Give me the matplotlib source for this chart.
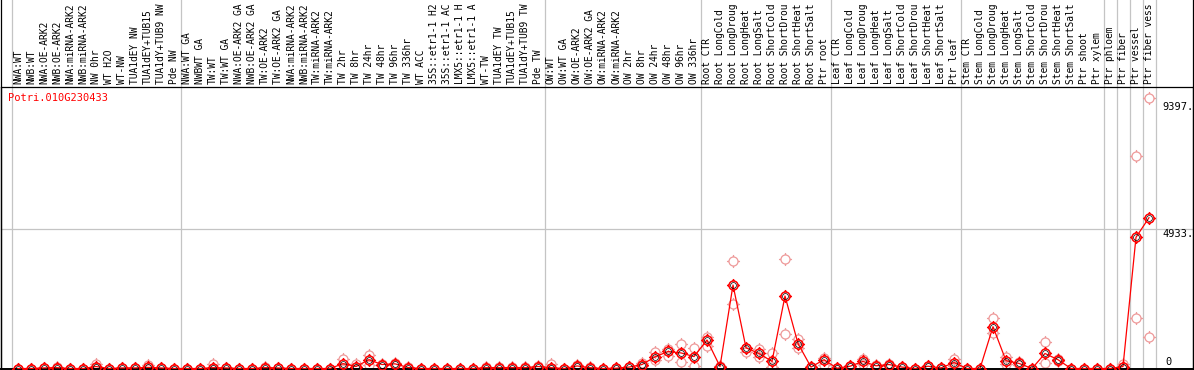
import matplotlib
matplotlib.use("Agg")
import matplotlib.pyplot as plt
import matplotlib.transforms as mtransforms
from matplotlib.path import Path

# sample names (as shown, cut at the top of the image)
samples = [
    "NWA:WT", "NWB:WT", "NWA:OE-ARK2", "NWB:OE-ARK2", "NWA:miRNA-ARK2", "NWB:miRNA-ARK2",
    "NW 0hr", "WT H2O", "WT-NW", "TUA1dEY NW", "TUA1dEY+TUB15", "TUA1dY+TUB9 NW", "Pde NW",
    "NWA:WT GA", "NWBWT GA", "TW:WT", "TW:WT GA", "NWA:OE-ARK2 GA", "NWB:OE-ARK2 GA",
    "TW:OE-ARK2", "TW:OE-ARK2 GA", "NWA:miRNA-ARK2", "NWB:miRNA-ARK2", "TW:miRNA-ARK2",
    "TW:miRNA-ARK2", "TW 2hr", "TW 8hr", "TW 24hr", "TW 48hr", "TW 96hr", "TW 336hr",
    "WT ACC", "35S::etr1-1 H2", "35S::etr1-1 AC", "LMX5::etr1-1 H", "LMX5::etr1-1 A",
    "WT-TW", "TUA1dEY TW", "TUA1dEY+TUB15", "TUA1dY+TUB9 TW", "Pde TW",
    "OW:WT", "OW:WT GA", "OW:OE-ARK2", "OW:OE-ARK2 GA", "OW:miRNA-ARK2", "OW:miRNA-ARK2",
    "OW 2hr", "OW 8hr", "OW 24hr", "OW 48hr", "OW 96hr", "OW 336hr",
    "Root CTR", "Root LongCold", "Root LongDroug", "Root LongHeat", "Root LongSalt",
    "Root ShortCold", "Root ShortDrou", "Root ShortHeat", "Root ShortSalt", "Ptr root",
    "Leaf CTR", "Leaf LongCold", "Leaf LongDroug", "Leaf LongHeat", "Leaf LongSalt",
    "Leaf ShortCold", "Leaf ShortDrou", "Leaf ShortHeat", "Leaf ShortSalt", "Ptr leaf",
    "Stem CTR", "Stem LongCold", "Stem LongDroug", "Stem LongHeat", "Stem LongSalt",
    "Stem ShortCold", "Stem ShortDrou", "Stem ShortHeat", "Stem ShortSalt", "Ptr shoot",
    "Ptr xylem", "Ptr phloem", "Ptr fiber", "Ptr vessel", "Ptr fiber vess",
]

# mean expression per sample
mean_vals = [
    0, 0, 20, 30, 0, 0, 70, 0, 20, 20, 40, 20, 0,
    0, 0, 30, 20, 0, 0, 30, 20, 0, 0, 0, 0, 170, 70, 310, 140, 165, 35,
    0, 0, 0, 0, 0, 30, 30, 30, 30, 70,
    30, 0, 90, 30, 0, 10, 50, 140, 410, 600, 550, 420,
    1006, 70, 2946, 730, 530, 250, 2558, 880, 50, 310,
    10, 80, 250, 95, 140, 50, 0, 80, 20, 210,
    0, 0, 1475, 275, 180, 0, 530, 310, 0, 0, 0,
    0, 70, 4630, 5321,
]

# replicate values (highest / lowest)
rep_hi = [
    0, 0, 30, 40, 0, 0, 170, 0, 30, 30, 140, 30, 0,
    0, 0, 150, 30, 0, 0, 60, 30, 0, 0, 0, 0, 330, 150, 490, 160, 210, 50,
    0, 0, 0, 0, 0, 40, 40, 40, 40, 90,
    165, 0, 120, 40, 0, 20, 60, 180, 590, 700, 870, 740,
    1122, 80, 3793, 740, 680, 550, 3864, 1045, 60, 360,
    20, 100, 340, 110, 170, 60, 0, 90, 30, 325,
    0, 0, 1771, 400, 220, 0, 940, 330, 0, 0, 0,
    0, 165, 7509, 9534,
]
rep_lo = [
    0, 0, 10, 20, 0, 0, 10, 0, 10, 10, 0, 10, 0,
    0, 0, 0, 10, 0, 0, 10, 10, 0, 0, 0, 0, 0, 0, 130, 120, 120, 20,
    0, 0, 0, 0, 0, 20, 20, 20, 20, 50,
    0, 0, 60, 20, 0, 0, 40, 100, 300, 445, 235, 95,
    794, 60, 2276, 575, 420, 50, 1217, 715, 40, 135,
    0, 50, 150, 80, 100, 40, 0, 70, 10, 80,
    0, 0, 1242, 150, 130, 0, 190, 250, 0, 0, 0,
    0, 0, 1771, 1101,
]

# group separators (between sample positions)
group_edges = [-0.5, 12.5, 40.5, 52.5, 62.5, 72.5, 83.5, 84.5, 85.5, 86.5, 87.5]
y_marks = [9397, 4933]
gene = "Potri.010G230433"

W, H = 1194, 370
fig = plt.figure(figsize=(W / 100, H / 100), dpi=100)
ax = fig.add_axes([1 / W, 1.5 / H, 1192 / W, 281.5 / H])

x = list(range(len(samples)))

# circle with four small ticks
ticks = Path([(0, 1), (0, 1.45), (0, -1), (0, -1.45), (1, 0), (1.45, 0), (-1, 0), (-1.45, 0)],
             [Path.MOVETO, Path.LINETO] * 4)
tick_circle = Path.make_compound_path(Path.unit_circle(), ticks)

ax.plot(x, rep_hi, linestyle="none", marker=tick_circle, ms=9.4, mfc="none",
        mec="#ee9a9a", mew=0.9, zorder=2)
ax.plot(x, rep_lo, linestyle="none", marker=tick_circle, ms=9.4, mfc="none",
        mec="#ee9a9a", mew=0.9, zorder=2)
ax.plot(x, mean_vals, color="red", lw=0.9, marker=tick_circle, ms=9.4, mfc="none",
        mec="red", mew=1.1, zorder=4)
ax.plot(x, mean_vals, linestyle="none", marker="o", ms=4.2, mfc="none",
        mec="black", mew=0.5, zorder=5)

for b in group_edges:
    ax.axvline(b, ymin=-0.01, ymax=1.31, color="#c4c4c4", lw=0.9, clip_on=False, zorder=0.5)
ax.axhline(y_marks[1], color="#c4c4c4", lw=0.9, zorder=0.5)

ax.set_xlim((1 - 18) / 13, (1193 - 18) / 13)
ax.set_ylim(0, 9933)
ax.set_xticks([])
ax.set_yticks([])
for s in ax.spines.values():
    s.set_color("black")
    s.set_linewidth(0.9)
ax.spines["bottom"].set_linewidth(1.4)

mono = "DejaVu Sans Mono"
ytr = ax.get_yaxis_transform()
for v in y_marks:
    ax.text(0.9745, v, f"{v}.", transform=ytr, ha="left", va="top",
            fontsize=7.5, family=mono)
ax.text(0.9765, 70, "0", transform=ytr, ha="left", va="bottom", fontsize=7.5, family=mono)

ax.text(7 / 1192, 1 - 6 / 281.5, gene, transform=ax.transAxes, ha="left", va="top",
        color="red", fontsize=7.5, family=mono)

lbl_tr = mtransforms.blended_transform_factory(ax.transData, fig.transFigure)
for i, s in enumerate(samples):
    fig.text(i, (H - 84) / H, s, transform=lbl_tr, rotation=90, ha="center", va="bottom",
             fontsize=6.9, family=mono)

# outer frame of the label area
fig.add_artist(plt.Line2D([0.5 / W, 0.5 / W], [0, 1], color="black", lw=0.9))
fig.add_artist(plt.Line2D([1192.5 / W, 1192.5 / W], [0, 1], color="black", lw=0.9))

fig.savefig("out.png", dpi=100)
